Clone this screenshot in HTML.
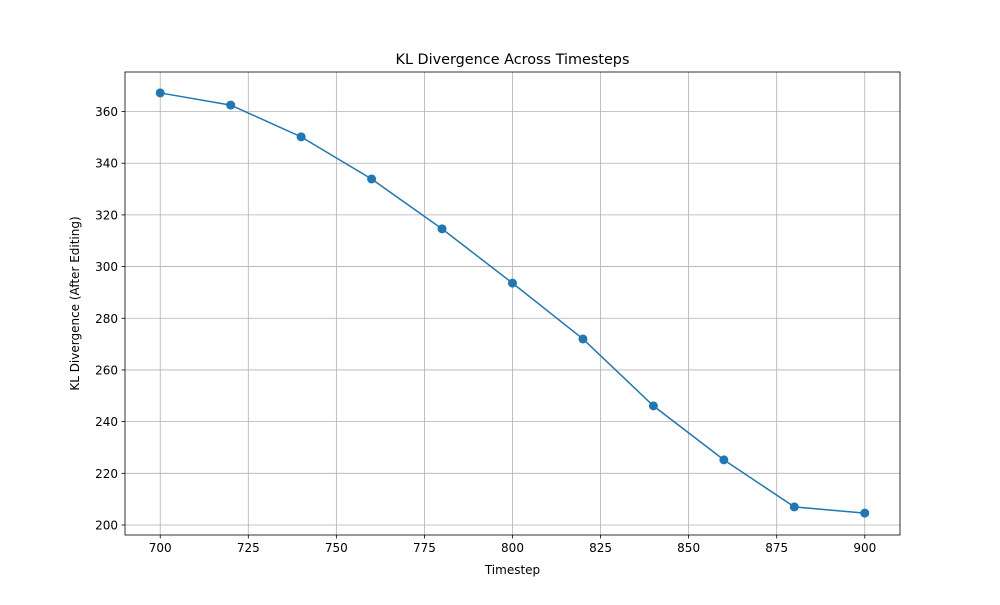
<!DOCTYPE html>
<html><head><meta charset="utf-8"><style>
body{margin:0;background:#fff;}
svg text{font-family:"DejaVu Sans","Liberation Sans",sans-serif;fill:#000;}
</style></head><body>
<svg id="chart" width="1000" height="600"></svg>
<script>
const timesteps=[700,720,740,760,780,800,820,840,860,880,900];
const klValues=[367.2,362.5,350.2,333.9,314.6,293.6,272.0,246.1,225.2,207.0,204.6];
const xTicks=[700,725,750,775,800,825,850,875,900];
const yTicks=[200,220,240,260,280,300,320,340,360];
const L=125,R=900,T=72,B=535;
const xMin=690,xMax=910,yMin=196.13,yMax=375.3;
const sx=v=>L+(v-xMin)/(xMax-xMin)*(R-L);
const sy=v=>B-(v-yMin)/(yMax-yMin)*(B-T);
const svg=document.getElementById('chart');
const NS='http://www.w3.org/2000/svg';
function mk(tag,attrs,parent){const e=document.createElementNS(NS,tag);for(const k in attrs)e.setAttribute(k,attrs[k]);(parent||svg).appendChild(e);return e;}
const grid=mk('g',{});


xTicks.forEach(t=>{const x=sx(t);
 mk('line',{x1:x,x2:x,y1:T,y2:B,stroke:'#b0b0b0','stroke-width':0.8},grid);
 mk('line',{x1:x,x2:x,y1:B,y2:B+3.5,stroke:'#000','stroke-width':0.8});
 const tx=mk('text',{x:x,y:B+17,'text-anchor':'middle','font-size':'12'});tx.textContent=t;
 
 
});
yTicks.forEach(t=>{const y=sy(t);
 mk('line',{x1:L,x2:R,y1:y,y2:y,stroke:'#b0b0b0','stroke-width':0.8},grid);
 mk('line',{x1:L-3.5,x2:L,y1:y,y2:y,stroke:'#000','stroke-width':0.8});
 const tx=mk('text',{x:L-7,y:y+4.5,'text-anchor':'end','font-size':'12'});tx.textContent=t;
 
 
});
const line=mk('polyline',{points:timesteps.map((t,i)=>sx(t)+','+sy(klValues[i])).join(' '),fill:'none',stroke:'#1f77b4','stroke-width':1.5});


timesteps.forEach((t,i)=>{const c=mk('circle',{cx:sx(t),cy:sy(klValues[i]),r:4.5,fill:'#1f77b4'});
 
 
});
const frame=mk('rect',{x:L,y:T,width:R-L,height:B-T,fill:'none',stroke:'#000','stroke-width':0.8});


const title=mk('text',{x:(L+R)/2,y:64,'text-anchor':'middle','font-size':'14.4'});title.textContent='KL Divergence Across Timesteps';


const xl=mk('text',{x:(L+R)/2,y:574,'text-anchor':'middle','font-size':'12'});xl.textContent='Timestep';


const yl=mk('text',{x:0,y:0,'text-anchor':'middle','font-size':'12',transform:'translate(79,'+((T+B)/2)+') rotate(-90)'});yl.textContent='KL Divergence (After Editing)';


</script>
</body></html>
